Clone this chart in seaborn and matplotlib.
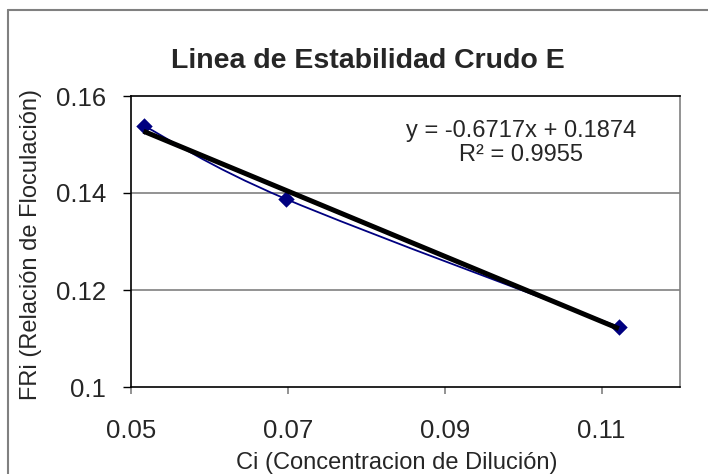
import numpy as np
import pandas as pd
import matplotlib
matplotlib.use("Agg")
import matplotlib.pyplot as plt
from matplotlib.path import Path
from matplotlib.patches import PathPatch
from matplotlib.lines import Line2D
import seaborn as sns

# ---- data ----
ci = [0.0516, 0.0697, 0.1122]
fri = [0.1539, 0.1388, 0.1124]
slope = -0.6717
intercept = 0.1874
r2 = 0.9955
x_ticks = [0.05, 0.07, 0.09, 0.11]
x_tick_labels = ["0.05", "0.07", "0.09", "0.11"]
y_ticks = [0.10, 0.12, 0.14, 0.16]
y_tick_labels = ["0.1", "0.12", "0.14", "0.16"]
title = "Linea de Estabilidad Crudo E"
xlabel = "Ci (Concentracion de Dilución)"
ylabel = "FRi (Relación de Floculación)"

sns.set_style("white")
plt.rcParams["font.family"] = ["Liberation Sans", "DejaVu Sans"]

W, H = 708, 474
fig = plt.figure(figsize=(W / 100, H / 100), dpi=100)
L, R, T, B = 131, 680, 96, 387
ax = fig.add_axes([L / W, 1 - B / H, (R - L) / W, (B - T) / H])

navy = "#000080"
df = pd.DataFrame({"ci": ci, "fri": fri})

# smoothed (Excel-like) curve through the points via cubic Bezier
pts = np.column_stack([ci, fri])
n = len(pts)
verts = [pts[0]]
codes = [Path.MOVETO]
for i in range(n - 1):
    p_prev = pts[i - 1] if i > 0 else pts[i]
    p0 = pts[i]
    p1 = pts[i + 1]
    p_next = pts[i + 2] if i + 2 < n else pts[i + 1]
    c1 = p0 + (p1 - p_prev) / 6.0
    c2 = p1 - (p_next - p0) / 6.0
    verts += [c1, c2, p1]
    codes += [Path.CURVE4] * 3
ax.add_patch(PathPatch(Path(verts, codes), facecolor="none", edgecolor=navy,
                       lw=1.3, zorder=3))

# markers
sns.scatterplot(data=df, x="ci", y="fri", marker="D", s=70, color=navy,
                edgecolor=navy, linewidth=0, ax=ax, zorder=4)

# linear trendline
fit_x = np.array([min(ci), max(ci)])
fit_df = pd.DataFrame({"x": fit_x, "y": slope * fit_x + intercept})
sns.lineplot(data=fit_df, x="x", y="y", color="black", lw=3.6, ax=ax,
             zorder=5, solid_capstyle="butt")

ax.set_xlim(0.05, 0.12)
ax.set_ylim(0.10, 0.16)
ax.set_xticks(x_ticks)
ax.set_xticklabels(x_tick_labels, fontsize=18.5)
ax.set_yticks(y_ticks)
ax.set_yticklabels(y_tick_labels, fontsize=18.5)
ax.set_xlabel("")
ax.set_ylabel("")
ax.tick_params(axis="x", direction="out", length=5, width=1.2, color="#808080",
               pad=18, bottom=True)
ax.tick_params(axis="y", direction="out", length=6, width=1.0, color="black",
               pad=12, left=True)
for yv in y_ticks[1:3]:
    ax.axhline(yv, color="#808080", lw=1.2, zorder=1)

for side in ["left", "bottom", "top"]:
    ax.spines[side].set_color("black")
    ax.spines[side].set_linewidth(1.2)
ax.spines["right"].set_color("#808080")
ax.spines["right"].set_linewidth(1.2)
ax.spines["top"].set_visible(True)
ax.spines["right"].set_visible(True)

fig.text(521 / W, 1 - 131 / H, f"y = {slope}x + {intercept}",
         ha="center", va="center", fontsize=17)
fig.text(521 / W, 1 - 155 / H, f"R² = {r2}",
         ha="center", va="center", fontsize=17)

fig.text(367.5 / W, 1 - 68 / H, title, ha="center", va="baseline",
         fontsize=20.5, fontweight="bold")
fig.text(397 / W, 1 - 469 / H, xlabel, ha="center", va="baseline",
         fontsize=17)
fig.text(31 / W, 1 - 245 / H, ylabel, ha="center", va="center",
         rotation=90, fontsize=17)

# chart area border
fig.add_artist(Line2D([8 / W, 8 / W], [0, 1 - 10 / H], color="#808080", lw=1.5,
                      transform=fig.transFigure))
fig.add_artist(Line2D([8 / W, 1], [1 - 10 / H, 1 - 10 / H], color="#808080",
                      lw=1.5, transform=fig.transFigure))

fig.savefig("out.png", dpi=100)
